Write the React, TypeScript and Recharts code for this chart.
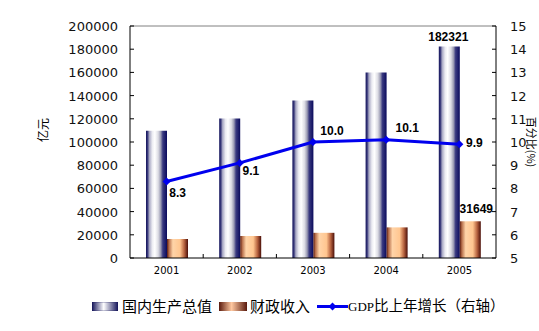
import {
  ComposedChart,
  Bar,
  Line,
  XAxis,
  YAxis,
  Legend,
  LabelList,
  ReferenceLine,
} from "recharts";

const years = ["2001", "2002", "2003", "2004", "2005"];
const gdp = [109655, 120333, 135823, 159878, 182321];
const revenue = [16386, 18904, 21715, 26396, 31649];
const growth = [8.3, 9.1, 10.0, 10.1, 9.9];

const leftTicks = [0, 20000, 40000, 60000, 80000, 100000, 120000, 140000, 160000, 180000, 200000];
const rightTicks = [5, 6, 7, 8, 9, 10, 11, 12, 13, 14, 15];

const data = years.map((y, i) => ({
  year: y,
  gdp: gdp[i],
  revenue: revenue[i],
  growth: growth[i],
}));

const W = 539;
const H = 331;
const margin = { top: 26, right: 0, bottom: 43, left: 0 };
const bandW = (W - 130 - 43) / years.length;

const tickFont = "'DejaVu Sans', sans-serif";
const labelFont = "'Liberation Sans', Arial, sans-serif";
const cjkFont = "'Noto Sans CJK SC', sans-serif";

// growth label offsets (dx, dy) from the point
const growthLabelOffset = [
  [11, 12],
  [11, 8],
  [19, -11],
  [21, -12],
  [15, -1],
];

function LeftTick(props: any) {
  const { x, y, payload } = props;
  return (
    <g>
      <line x1={x + 12} x2={x + 16} y1={y} y2={y} stroke="#000" />
      <text x={x} y={y} dy={5} textAnchor="end" fontSize={13} fontFamily={tickFont} fill="#111">
        {payload.value}
      </text>
    </g>
  );
}

function RightTick(props: any) {
  const { x, y, payload } = props;
  return (
    <g>
      <line x1={x - 14} x2={x - 18} y1={y} y2={y} stroke="#000" />
      <text x={x} y={y} dy={5} textAnchor="start" fontSize={13} fontFamily={tickFont} fill="#111">
        {payload.value}
      </text>
    </g>
  );
}

function XTick(props: any) {
  const { x, y, payload, index } = props;
  return (
    <g>
      {index < years.length - 1 && (
        <line x1={x + bandW / 2} x2={x + bandW / 2} y1={y - 12} y2={y - 16} stroke="#000" />
      )}
      <text x={x} y={y} dy={4} textAnchor="middle" fontSize={10} fontFamily={tickFont} fill="#000">
        {payload.value}
      </text>
    </g>
  );
}

function Diamond(props: any) {
  const { cx, cy } = props;
  if (cx == null || cy == null) return null;
  return (
    <polygon
      points={`${cx},${cy - 4} ${cx + 4},${cy} ${cx},${cy + 4} ${cx - 4},${cy}`}
      fill="#0000ee"
    />
  );
}

function GrowthLabel(props: any) {
  const { x, y, value, index } = props;
  const [dx, dy] = growthLabelOffset[index];
  return (
    <text
      x={x + dx}
      y={y + dy}
      dy={4}
      textAnchor="middle"
      fontSize={12}
      fontWeight="bold"
      fontFamily={labelFont}
      fill="#000"
    >
      {Number(value).toFixed(1)}
    </text>
  );
}

function LastBarLabel(dx: number, dy: number) {
  return (props: any) => {
    const { x, y, width, value, index } = props;
    if (index !== years.length - 1) return null;
    return (
      <text
        x={x + width / 2 + dx}
        y={y + dy}
        textAnchor="middle"
        fontSize={12}
        fontWeight="bold"
        fontFamily={labelFont}
        fill="#000"
      >
        {value}
      </text>
    );
  };
}

function RightAxisLabel(props: any) {
  const { viewBox } = props;
  const x = viewBox.x + viewBox.width - 7;
  const y = viewBox.y + viewBox.height / 2;
  return (
    <text
      x={x}
      y={y}
      transform={`rotate(90, ${x}, ${y})`}
      textAnchor="middle"
      dominantBaseline="central"
      fontSize={11}
      fontFamily={cjkFont}
      fill="#000"
    >
      百分比(%)
    </text>
  );
}

function LegendContent() {
  const txt = { fontSize: 15, fontFamily: cjkFont, color: "#000", lineHeight: "16px" };
  return (
    <div style={{ display: "flex", alignItems: "center", whiteSpace: "nowrap" }}>
      <svg width={26} height={9} style={{ marginRight: 4 }}>
        <rect x={0} y={0} width={26} height={9} fill="url(#gdpLegend)" stroke="#1a1a5e" strokeWidth={0.5} />
      </svg>
      <span style={txt}>国内生产总值</span>
      <svg width={28} height={9} style={{ marginLeft: 7, marginRight: 3 }}>
        <rect x={0} y={0} width={28} height={9} fill="url(#revLegend)" />
      </svg>
      <span style={txt}>财政收入</span>
      <svg width={31} height={9} style={{ marginLeft: 7 }}>
        <line x1={0} x2={31} y1={4.5} y2={4.5} stroke="#0000ee" strokeWidth={3} />
        <polygon points="15.5,0.5 19.5,4.5 15.5,8.5 11.5,4.5" fill="#0000ee" />
      </svg>
      <span style={{ ...txt, fontSize: 14.5 }}>
        <span style={{ fontFamily: "'Liberation Serif', serif", fontSize: 13 }}>GDP</span>比上年增长（右轴）
      </span>
    </div>
  );
}

export default function App() {
  return (
    <div style={{ position: "relative", width: W, height: H, background: "#fff" }}>
      <style>{"body{margin:0}"}</style>
      <ComposedChart
        width={W}
        height={H}
        data={data}
        margin={margin}
        barSize={21}
        barGap={0}
      >
        <defs>
          <linearGradient id="gdpGrad" x1="0" y1="0" x2="1" y2="0">
            <stop offset="0%" stopColor="#10105a" />
            <stop offset="8%" stopColor="#3c3c7c" />
            <stop offset="16%" stopColor="#a8a8c4" />
            <stop offset="30%" stopColor="#ececf2" />
            <stop offset="42%" stopColor="#ffffff" />
            <stop offset="58%" stopColor="#dcdce4" />
            <stop offset="70%" stopColor="#9c9cb4" />
            <stop offset="80%" stopColor="#3a3a80" />
            <stop offset="100%" stopColor="#0a0a5c" />
          </linearGradient>
          <linearGradient id="revGrad" x1="0" y1="0" x2="1" y2="0">
            <stop offset="0%" stopColor="#5a1a0e" />
            <stop offset="10%" stopColor="#b8704c" />
            <stop offset="28%" stopColor="#ffd4a8" />
            <stop offset="62%" stopColor="#ffc690" />
            <stop offset="82%" stopColor="#b86440" />
            <stop offset="100%" stopColor="#4a0e08" />
          </linearGradient>
          <linearGradient id="gdpLegend" x1="0" y1="0" x2="1" y2="0">
            <stop offset="0%" stopColor="#15155a" />
            <stop offset="45%" stopColor="#ffffff" />
            <stop offset="100%" stopColor="#15155a" />
          </linearGradient>
          <linearGradient id="revLegend" x1="0" y1="0" x2="1" y2="0">
            <stop offset="0%" stopColor="#5a1a0e" />
            <stop offset="45%" stopColor="#ffc8a0" />
            <stop offset="100%" stopColor="#5a1a0e" />
          </linearGradient>
        </defs>
        <XAxis
          dataKey="year"
          height={30}
          tickSize={0}
          tickMargin={12}
          axisLine={{ stroke: "#000" }}
          tick={<XTick />}
          interval={0}
        />
        <YAxis
          yAxisId="left"
          width={130}
          domain={[0, 200000]}
          ticks={leftTicks}
          interval={0}
          tickSize={0}
          tickMargin={12}
          axisLine={{ stroke: "#000" }}
          tick={<LeftTick />}
          label={{
            value: "亿元",
            angle: -90,
            position: "insideLeft",
            offset: 44,
            style: { fontSize: 12, fontFamily: cjkFont, fill: "#000" },
          }}
        />
        <YAxis
          yAxisId="right"
          orientation="right"
          width={43}
          domain={[5, 15]}
          ticks={rightTicks}
          interval={0}
          tickSize={0}
          tickMargin={14}
          axisLine={{ stroke: "#000" }}
          tick={<RightTick />}
          label={<RightAxisLabel />}
        />
        <ReferenceLine yAxisId="left" y={200000} stroke="#808080" />
        <Bar yAxisId="left" dataKey="gdp" fill="url(#gdpGrad)" isAnimationActive={false}>
          <LabelList dataKey="gdp" content={LastBarLabel(-1, -6)} />
        </Bar>
        <Bar yAxisId="left" dataKey="revenue" fill="url(#revGrad)" isAnimationActive={false}>
          <LabelList dataKey="revenue" content={LastBarLabel(6, -8)} />
        </Bar>
        <Line
          yAxisId="right"
          dataKey="growth"
          stroke="#0000ee"
          strokeWidth={3}
          dot={<Diamond />}
          activeDot={false}
          isAnimationActive={false}
        >
          <LabelList dataKey="growth" content={<GrowthLabel />} />
        </Line>
        <Legend
          verticalAlign="middle"
          align="center"
          content={<LegendContent />}
          wrapperStyle={{ top: 297, left: 92, width: 440, height: 18 }}
        />
      </ComposedChart>
    </div>
  );
}
